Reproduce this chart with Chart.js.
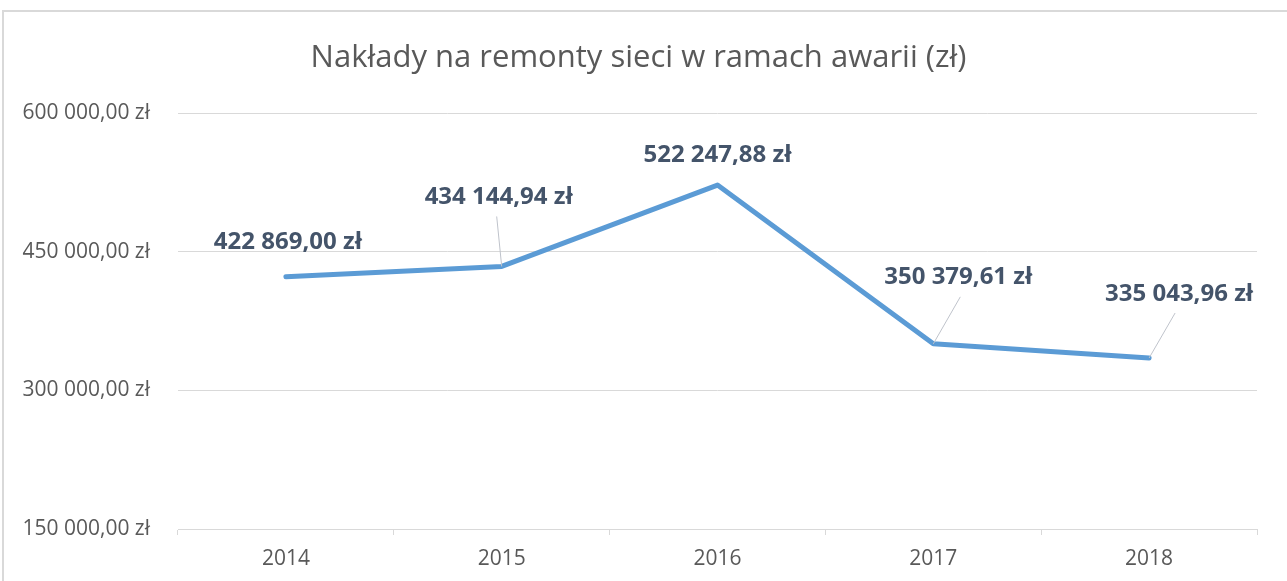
<!DOCTYPE html>
<html>
<head>
<meta charset="utf-8">
<script src="https://cdn.jsdelivr.net/npm/chart.js@4"></script>
<style>
  html, body { margin: 0; padding: 0; background: #ffffff; }
  #wrap { width: 1287px; height: 581px; }
</style>
</head>
<body>
<div id="wrap"><canvas id="myChart" width="1287" height="581"></canvas></div>
<script>
const years = ["2014", "2015", "2016", "2017", "2018"];
const costs = [422869.00, 434144.94, 522247.88, 350379.61, 335043.96];
const yTicks = [150000, 300000, 450000, 600000];

// where each value label sits relative to its point, and where its leader line ends
const labelOffsets = [
  { dx: 2, dy: -35, leader: null },
  { dx: -3, dy: -69, leader: [-5, -50] },
  { dx: 0, dy: -30, leader: null },
  { dx: 25, dy: -67, leader: [27, -47] },
  { dx: 30, dy: -64, leader: [26, -45] },
];

function groupThousands(n) {
  return String(n).replace(/\B(?=(\d{3})+(?!\d))/g, " ");
}
function money(v) {
  const whole = Math.floor(v);
  const cents = Math.round((v - whole) * 100);
  return groupThousands(whole) + "," + String(cents).padStart(2, "0") + " zł";
}

const fontName = "'Open Sans', sans-serif";

const frame = {
  id: "frame",
  beforeDraw(chart) {
    const c = chart.ctx;
    c.save();
    c.strokeStyle = "#d9d9d9";
    c.lineWidth = 2;
    c.beginPath();
    c.moveTo(3, chart.height);
    c.lineTo(3, 11);
    c.lineTo(chart.width, 11);
    c.stroke();
    c.restore();
  },
};

const valueLabels = {
  id: "valueLabels",
  afterDatasetsDraw(chart) {
    const c = chart.ctx;
    const meta = chart.getDatasetMeta(0);
    c.save();
    meta.data.forEach((pt, i) => {
      const o = labelOffsets[i];
      if (o.leader) {
        c.strokeStyle = "#bfc3cb";
        c.lineWidth = 1;
        c.beginPath();
        c.moveTo(pt.x, pt.y);
        c.lineTo(pt.x + o.leader[0], pt.y + o.leader[1]);
        c.stroke();
      }
      c.fillStyle = "#44546a";
      c.font = "bold 24px " + fontName;
      c.textAlign = "center";
      c.textBaseline = "middle";
      c.fillText(money(costs[i]), pt.x + o.dx, pt.y + o.dy);
    });
    c.restore();
  },
};

const myChart = new Chart(document.getElementById("myChart"), {
  type: "line",
  data: {
    labels: years,
    datasets: [
      {
        label: "Nakłady",
        data: costs,
        borderColor: "#5b9bd5",
        backgroundColor: "#5b9bd5",
        borderWidth: 5,
        pointRadius: 0,
        tension: 0,
        borderCapStyle: "round",
        borderJoinStyle: "round",
      },
    ],
  },
  options: {
    responsive: false,
    animation: false,
    layout: { padding: { left: 20, right: 30, top: 0, bottom: 0 } },
    plugins: {
      legend: { display: false },
      tooltip: { enabled: false },
      title: {
        display: true,
        text: "Nakłady na remonty sieci w ramach awarii (zł)",
        color: "#595959",
        font: { family: fontName, size: 31, weight: "normal" },
        padding: { top: 40, bottom: 36 },
      },
    },
    scales: {
      x: {
        offset: true,
        grid: {
          offset: true,
          drawOnChartArea: false,
          drawTicks: true,
          tickLength: 6,
          color: "#d9d9d9",
        },
        border: { display: true, color: "#d9d9d9" },
        ticks: {
          color: "#595959",
          font: { family: fontName, size: 21 },
          padding: 11,
          maxRotation: 0,
        },
        afterFit(scale) { scale.height = 52; },
      },
      y: {
        min: 150000,
        max: 600000,
        afterBuildTicks(scale) {
          scale.ticks = yTicks.map((v) => ({ value: v }));
        },
        grid: { color: "#d9d9d9", drawTicks: false },
        border: { display: false },
        ticks: {
          color: "#595959",
          font: { family: fontName, size: 21 },
          padding: 28,
          callback: (v) => money(v),
        },
        afterFit(scale) { scale.width = 158; },
      },
    },
  },
  plugins: [frame, valueLabels],
});
</script>
</body>
</html>
